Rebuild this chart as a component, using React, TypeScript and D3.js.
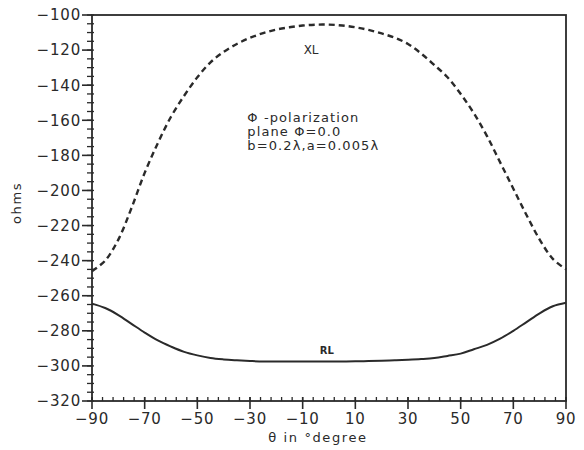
import { useMemo } from 'react';
import * as d3 from 'd3';

const WIDTH = 584;
const HEIGHT = 450;
const PLOT = { left: 92, right: 566, top: 15, bottom: 401 };
const INK = '#2a2a2a';
const FONT = '"DejaVu Sans", sans-serif';

const THETA = [
  -90, -85, -80, -75, -70, -65, -60, -55, -50, -45, -40, -35, -30, -25, -20, -15, -10, -5, 0,
  5, 10, 15, 20, 25, 30, 35, 40, 45, 50, 55, 60, 65, 70, 75, 80, 85, 90,
];

const XL = [
  -246, -240, -228, -210, -190, -173, -158, -146, -135.5, -127, -121, -116.5, -113, -110.3, -108.3,
  -107, -106, -105.5, -105.5, -106, -107, -108.5, -110.5, -113, -116.5, -122, -128.5, -135.5,
  -145, -156, -169, -184, -199, -214, -228, -239, -245,
];

const RL = [
  -264.5, -267, -271, -276, -281, -285.5, -289, -292, -294, -295.5, -296.3, -296.8, -297.2,
  -297.5, -297.5, -297.5, -297.5, -297.5, -297.5, -297.5, -297.4, -297.2, -297, -296.8, -296.5,
  -296.1, -295.5, -294.3, -293, -290.5, -288, -284.5, -280, -275, -270, -266, -264,
];

const X_TICKS = [-90, -70, -50, -30, -10, 10, 30, 50, 70, 90];
const Y_TICKS = [-100, -120, -140, -160, -180, -200, -220, -240, -260, -280, -300, -320];

const NOTE_LINES = ['\u03a6 -polarization', 'plane \u03a6=0.0', 'b=0.2\u03bb,a=0.005\u03bb'];

const minus = (v: number) => String(v).replace('-', '\u2212');

export default function App() {
  const { x, y, xlPath, rlPath, xMinor, yMinor } = useMemo(() => {
    const x = d3.scaleLinear().domain([-90, 90]).range([PLOT.left, PLOT.right]);
    const y = d3.scaleLinear().domain([-320, -100]).range([PLOT.bottom, PLOT.top]);
    const line = d3
      .line<number>()
      .x((_, i) => x(THETA[i]))
      .y((v) => y(v))
      .curve(d3.curveCatmullRom.alpha(0.5));
    return {
      x,
      y,
      xlPath: line(XL) ?? '',
      rlPath: line(RL) ?? '',
      xMinor: d3.range(-90, 90.1, 4),
      yMinor: d3.range(-320, -99.9, 5),
    };
  }, []);

  return (
    <svg
      width={WIDTH}
      height={HEIGHT}
      viewBox={`0 0 ${WIDTH} ${HEIGHT}`}
      style={{ position: 'absolute', left: 0, top: 0, background: '#fff' }}
      fontFamily={FONT}
    >
      {/* frame */}
      <rect
        x={PLOT.left}
        y={PLOT.top}
        width={PLOT.right - PLOT.left}
        height={PLOT.bottom - PLOT.top}
        fill="none"
        stroke={INK}
        strokeWidth={1.8}
      />

      {/* y ticks */}
      {yMinor.map((v) => (
        <line key={`ym${v}`} x1={PLOT.left - 5} x2={PLOT.left + 2} y1={y(v)} y2={y(v)} stroke={INK} strokeWidth={1.3} />
      ))}
      {Y_TICKS.map((v) => (
        <g key={`y${v}`}>
          <line x1={PLOT.left - 10} x2={PLOT.left} y1={y(v)} y2={y(v)} stroke={INK} strokeWidth={1.6} />
          <text x={PLOT.left - 11} y={y(v)} dy="0.36em" textAnchor="end" fontSize={15} fill={INK} letterSpacing={0.8}>
            {minus(v)}
          </text>
        </g>
      ))}

      {/* x ticks */}
      {xMinor.map((v) => (
        <line key={`xm${v}`} x1={x(v)} x2={x(v)} y1={PLOT.bottom - 4} y2={PLOT.bottom} stroke={INK} strokeWidth={1.3} />
      ))}
      {X_TICKS.map((v) => (
        <g key={`x${v}`}>
          <line x1={x(v)} x2={x(v)} y1={PLOT.bottom - 4} y2={PLOT.bottom + 8} stroke={INK} strokeWidth={1.6} />
          <text x={x(v)} y={PLOT.bottom + 23} textAnchor="middle" fontSize={15} fill={INK} letterSpacing={0.8}>
            {minus(v)}
          </text>
        </g>
      ))}

      {/* axis titles */}
      <text x={318} y={442} textAnchor="middle" fontSize={13} fill={INK} letterSpacing={1.6}>
        {'\u03b8 in \u00b0degree'}
      </text>
      <text
        transform={`translate(21, 203) rotate(-90)`}
        textAnchor="middle"
        fontSize={13}
        fill={INK}
        letterSpacing={1.6}
      >
        ohms
      </text>

      {/* curves */}
      <path d={xlPath} fill="none" stroke={INK} strokeWidth={2.4} strokeDasharray="6 4" />
      <path d={rlPath} fill="none" stroke={INK} strokeWidth={2} />

      {/* labels */}
      <text x={x(-6.8)} y={y(-122)} textAnchor="middle" fontSize={12} fill={INK}>
        XL
      </text>
      <text x={x(-0.8)} y={y(-293)} textAnchor="middle" fontSize={10} fontWeight="bold" fill={INK}>
        RL
      </text>
      {NOTE_LINES.map((t, i) => (
        <text key={t} x={x(-31)} y={y(-161) + i * 14} fontSize={13} fill={INK} letterSpacing={1.1}>
          {t}
        </text>
      ))}
    </svg>
  );
}
